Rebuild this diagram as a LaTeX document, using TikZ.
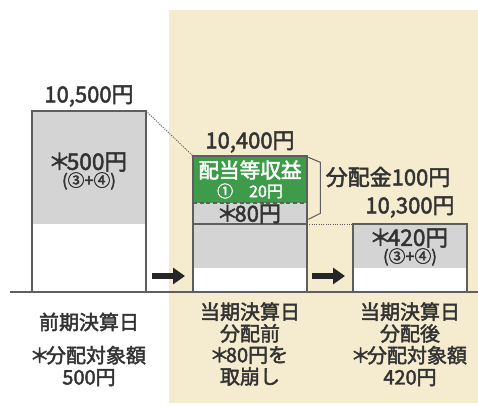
\documentclass[tikz,border=0pt]{standalone}
\usepackage{fontspec}
\setmainfont{Noto Sans CJK JP}[FakeBold=2.2]
\usepackage{xcolor}
\usepackage{tikz}
\usetikzlibrary{arrows.meta,positioning}
\definecolor{txt}{HTML}{333333}
\definecolor{barg}{HTML}{D4D4D4}
\definecolor{grn}{HTML}{3E9B4A}
\definecolor{beige}{HTML}{F5EBCF}
\definecolor{edge}{HTML}{5E5E5E}
\newdimen\px \px=0.75pt
\newcommand\ask{\kern-.12em＊\kern-.18em}
\tikzset{
  part/.style = {rectangle, inner sep=0pt, outer sep=0pt, minimum width=114\px, anchor=north west},
  bar_g/.style = {part, fill=barg},
  bar_w/.style = {part, fill=white},
  bar_grn/.style = {part, fill=grn},
  outl/.style = {draw=edge, line width=1.1\px},
  val/.style = {inner sep=0pt, text=txt, font=\fontsize{16.5}{18}\selectfont},
  amt/.style = {inner sep=0pt, text=txt, font=\fontsize{17}{18}\selectfont},
  sub_t/.style = {inner sep=0pt, text=txt, font=\fontsize{12.5}{14}\selectfont},
  grn_t/.style = {inner sep=0pt, text=white, font=\fontsize{15.5}{17}\selectfont},
  grn_s/.style = {inner sep=0pt, text=white, font=\fontsize{12}{14}\selectfont},
  cap_t/.style = {inner sep=0pt, text=txt, align=center, font=\fontsize{15}{16.3}\selectfont},
  fat_arr/.style = {line width=4.5pt, draw=black!85, -{Triangle[length=9pt, width=12pt]}}
}

\begin{document}
\begin{tikzpicture}[x=1\px, y=-1\px]
	\fill[white] (0,0) rectangle (478,406);
	\useasboundingbox (0,0) rectangle (478,406);
	\fill[beige] (169,10) rectangle (478,403);

	% previous term
	\node[bar_g, minimum height=113\px] (prevG) at (32,111) {};
	\node[bar_w, minimum height=68\px] (prevW) at (32,224) {};
	\draw[outl] (prevG.north west) rectangle (prevW.south east);

	% current term, before distribution
	\node[bar_grn, minimum height=47\px] (grn) at (193,156) {};
	\node[bar_g, minimum height=21\px] (band80) at (193,203) {};
	\node[bar_g, minimum height=44\px] (curG) at (193,224) {};
	\node[bar_w, minimum height=24\px] (curW) at (193,268) {};
	\draw[outl] (grn.north west) rectangle (curW.south east);
	\draw[edge, line width=1.1\px, densely dashed] (grn.south west) -- (grn.south east);
	\draw[outl] (band80.south west) -- (band80.south east);

	% current term, after distribution
	\node[bar_g, minimum height=44\px] (nextG) at (353,224) {};
	\node[bar_w, minimum height=24\px] (nextW) at (353,268) {};
	\draw[outl] (nextG.north west) rectangle (nextW.south east);

	\draw[edge, line width=1\px, densely dotted] (prevG.north east) -- (grn.north west);
	\draw[edge, line width=1\px, densely dotted] (band80.south east) -- (nextG.north west);

	% brace
	\draw[outl] ([xshift=1pt, yshift=-1pt]grn.north east) -- ++(12,5) -- ++(0,51) -- ++(-12,6);

	\draw[edge, line width=1.2\px] (10,292) -- (478,292);
	\draw[fat_arr] ([xshift=4.5pt, yshift=12pt]prevW.south east) -- ([xshift=-6pt, yshift=12pt]curW.south west);
	\draw[fat_arr] ([xshift=3.75pt, yshift=12pt]curW.south east) -- ([xshift=-6pt, yshift=12pt]nextW.south west);

	\node[val] (v500) at (89,96) {10,500円};
	\node[amt] (a500) at (89,162) {\ask{}500円};
	\node[sub_t] (s500) at (89,181) {(③+④)};
	\node[val] (v400) at (250,142) {10,400円};
	\node[grn_t] (gtitle) at (250,170) {配当等収益};
	\node[grn_s] (gsub) at (250,191) {①　20円};
	\node[val] (a80) at (250,214) {\ask{}80円};
	\node[val] (dist) at (388,177) {分配金100円};
	\node[val] (v300) at (410,207) {10,300円};
	\node[amt] (a420) at (410,238) {\ask{}420円};
	\node[sub_t] (s420) at (410,257) {(③+④)};

	\node[cap_t] (c_prev) at (89,322) {前期決算日};
	\node[cap_t] (n_prev) at (89,366) {\ask{}分配対象額\\500円};
	\node[cap_t] (c_cur) at (250,322.5) {当期決算日\\分配前};
	\node[cap_t] (n_cur) at (250,366) {\ask{}80円を\\取崩し};
	\node[cap_t] (c_next) at (410,322.5) {当期決算日\\分配後};
	\node[cap_t] (n_next) at (410,366) {\ask{}分配対象額\\420円};
\end{tikzpicture}
\end{document}
